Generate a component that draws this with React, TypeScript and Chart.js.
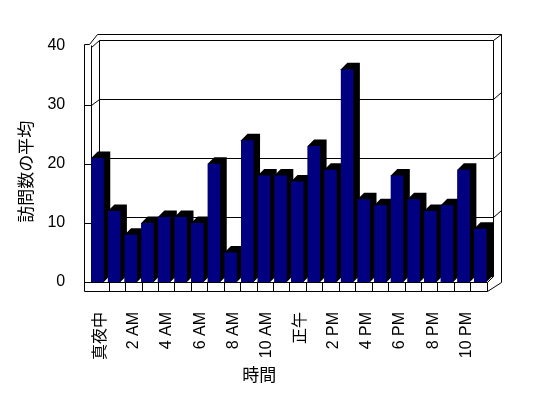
import React, { useEffect, useRef } from 'react';
import { Chart, registerables } from 'chart.js';

Chart.register(...registerables);

// ---- data ----
const hours = [
  '真夜中', '1 AM', '2 AM', '3 AM', '4 AM', '5 AM', '6 AM', '7 AM', '8 AM', '9 AM', '10 AM', '11 AM',
  '正午', '1 PM', '2 PM', '3 PM', '4 PM', '5 PM', '6 PM', '7 PM', '8 PM', '9 PM', '10 PM', '11 PM',
];
const visits = [21, 12, 8, 10, 11, 11, 10, 20, 5, 24, 18, 18, 17, 23, 19, 36, 14, 13, 18, 14, 12, 13, 19, 9];
const yMin = 0;
const yMax = 40;
const yStep = 10;
const yTitle = '訪問数の平均';
const xTitle = '時間';

const FONT = "'Liberation Sans', 'Noto Sans CJK JP', sans-serif";

const box3d = {
  id: 'box3d',
  beforeDatasetsDraw(chart: any) {
    const { ctx, chartArea: a, scales } = chart;
    const ys = scales.y;
    const BACK_DY = 6;
    const L0 = a.left - 5.2;
    const L1 = a.left + 1.8;
    const BL = a.left + 9.3;
    const BR = a.right + 4.4;
    const R1 = a.right + 12.4;
    const top40 = ys.getPixelForValue(yMax);
    const back = (v: number) => ys.getPixelForValue(v) - BACK_DY;
    const outerTop = top40 - 12;
    const floorY = a.bottom + 9;
    const FL = a.left + 3.1;
    const FR = a.right - 1.9;
    const px = (v: number) => Math.round(v) + 0.5;
    ctx.save();
    ctx.strokeStyle = '#000';
    ctx.lineWidth = 1;
    const line = (pts: number[][]) => {
      ctx.beginPath();
      pts.forEach(([x, y], i) => (i ? ctx.lineTo(px(x), px(y)) : ctx.moveTo(px(x), px(y))));
      ctx.stroke();
    };
    // walls
    line([[L0, top40 - 2], [L0, floorY]]);
    line([[L1, top40 - 1], [L1, a.bottom]]);
    line([[BL, back(yMax)], [BL, back(yMin)]]);
    line([[BR, back(yMax)], [BR, back(yMin)]]);
    line([[R1, outerTop], [R1, a.bottom]]);
    line([[L0, top40 - 2], [L0 + 5, top40 - 2], [BL - 2, outerTop], [R1, outerTop]]);
    line([[L1, top40 + 1], [BL, back(yMax)], [BR, back(yMax)], [R1, outerTop]]);
    // gridlines
    ys.ticks.forEach((t: any) => {
      const v = t.value;
      if (v === yMax) return;
      const fy = ys.getPixelForValue(v);
      if (v === yMin) {
        line([[L0, fy], [L1, fy], [BL, back(v)], [BR, back(v)]]);
      } else {
        line([[L0, fy], [L1, fy], [BL, back(v)], [BR, back(v)], [R1, back(v) - 6.5]]);
      }
    });
    // floor
    line([[L0, a.bottom], [FR, a.bottom], [BR, back(yMin)]]);
    line([[L0, floorY], [FR, floorY], [R1, a.bottom]]);
    const n = hours.length;
    for (let k = 1; k <= n; k++) {
      const x = FL + (k * (FR - FL)) / n;
      line([[x, a.bottom], [x, floorY]]);
    }
    // bar extrusions
    const DX = 6.5;
    const DY = 6.5;
    ctx.fillStyle = '#000';
    const meta = chart.getDatasetMeta(0);
    meta.data.forEach((el: any) => {
      const { x, y, base, width } = el.getProps(['x', 'y', 'base', 'width'], true);
      const xl = x - width / 2;
      const xr = x + width / 2;
      ctx.beginPath();
      ctx.moveTo(xl, y);
      ctx.lineTo(xl + DX, y - DY);
      ctx.lineTo(xr + DX, y - DY);
      ctx.lineTo(xr + DX, base - DY);
      ctx.lineTo(xr, base);
      ctx.lineTo(xl, base);
      ctx.closePath();
      ctx.fill();
    });
    ctx.restore();
  },
  afterDraw(chart: any) {
    const { ctx, chartArea: a } = chart;
    ctx.save();
    ctx.fillStyle = '#000';
    ctx.font = `17px ${FONT}`;
    ctx.textAlign = 'center';
    ctx.textBaseline = 'middle';
    ctx.fillText(xTitle, a.left + 170, a.bottom + 94);
    ctx.translate(27, (a.top + a.bottom) / 2 + 8);
    ctx.rotate(-Math.PI / 2);
    ctx.fillText(yTitle, 0, 0);
    ctx.restore();
  },
};

export default function App() {
  const ref = useRef<HTMLCanvasElement | null>(null);
  useEffect(() => {
    document.body.style.margin = '0';
    document.body.style.overflow = 'hidden';
    const canvas = ref.current;
    if (!canvas) return;
    const chart = new Chart(canvas, {
      type: 'bar',
      data: {
        labels: hours,
        datasets: [
          {
            data: visits,
            backgroundColor: '#000080',
            borderWidth: 0,
            categoryPercentage: 1,
            barPercentage: 0.75,
          },
        ],
      },
      options: {
        animation: false,
        responsive: false,
        devicePixelRatio: 1,
        layout: { padding: { top: 45.6, left: 0, right: 59.4, bottom: 0 } },
        plugins: { legend: { display: false }, tooltip: { enabled: false }, title: { display: false } },
        scales: {
          x: {
            grid: { display: false },
            border: { display: false },
            ticks: {
              autoSkip: false,
              maxRotation: 90,
              minRotation: 90,
              padding: 22,
              labelOffset: 3,
              color: '#000',
              font: { size: 16, family: FONT },
              callback: (_v: any, i: number) => (i % 2 === 0 ? hours[i] : ''),
            },
            afterFit: (s: any) => {
              s.height = 116;
            },
          },
          y: {
            min: yMin,
            max: yMax,
            grid: { display: false },
            border: { display: false },
            ticks: {
              stepSize: yStep,
              padding: 16,
              color: '#000',
              font: { size: 16, family: FONT },
            },
            afterFit: (s: any) => {
              s.width = 89.2;
            },
          },
        },
      },
      plugins: [box3d],
    } as any);
    return () => chart.destroy();
  }, []);
  return (
    <canvas
      ref={ref}
      width={548}
      height={398}
      style={{ display: 'block', width: '548px', height: '398px' }}
    />
  );
}
